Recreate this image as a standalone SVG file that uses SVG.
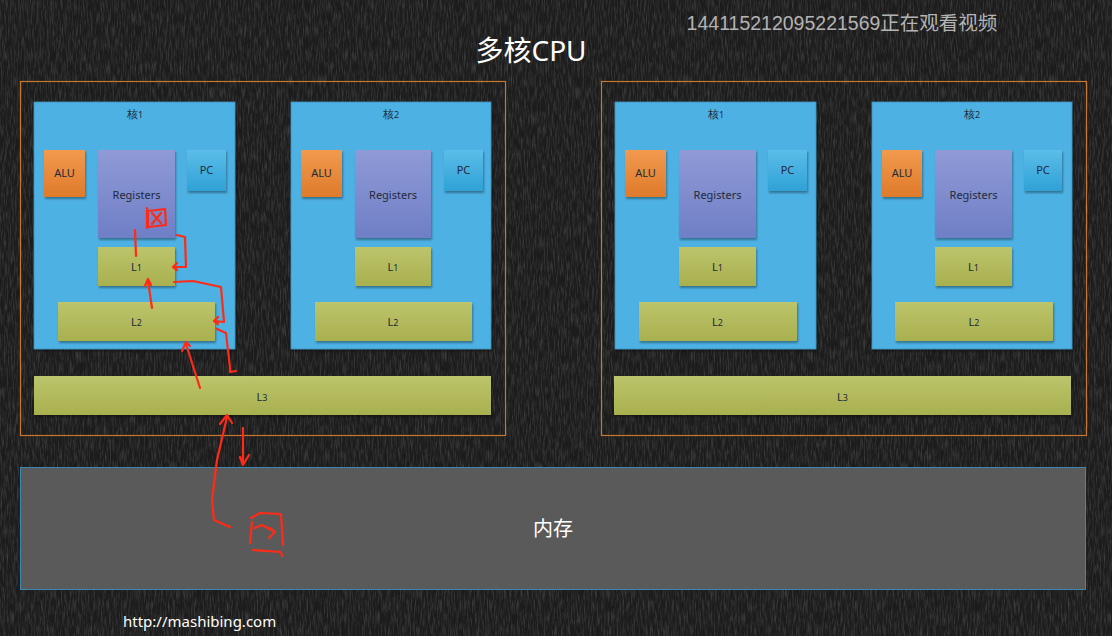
<svg xmlns="http://www.w3.org/2000/svg" width="1112" height="636" viewBox="0 0 1112 636">
<defs>
<style>
.cpu{fill:none;stroke:#c8782e;stroke-width:1.2}
.core{fill:#4db1e3;stroke:#3d8fb8;stroke-width:0.8}
.alu{fill:url(#gAlu)}
.reg{fill:url(#gReg)}
.pc{fill:url(#gPc)}
.cache{fill:url(#gCache)}
.sh{filter:url(#shadow)}
.lbl{font-family:"Noto Sans","Open Sans",sans-serif;font-size:11px;fill:#1e2a3a;text-anchor:middle}
.red{fill:none;stroke:#ff2b17;stroke-width:2.2;stroke-linecap:round;stroke-linejoin:round}
</style>
<linearGradient id="gAlu" x1="0" y1="0" x2="0" y2="1"><stop offset="0" stop-color="#f19a4f"/><stop offset="1" stop-color="#df7a2a"/></linearGradient>
<linearGradient id="gReg" x1="0" y1="0" x2="0" y2="1"><stop offset="0" stop-color="#8f9ad6"/><stop offset="1" stop-color="#6f7fc6"/></linearGradient>
<linearGradient id="gPc" x1="0" y1="0" x2="0" y2="1"><stop offset="0" stop-color="#5cbde9"/><stop offset="1" stop-color="#2fa1d6"/></linearGradient>
<linearGradient id="gCache" x1="0" y1="0" x2="0" y2="1"><stop offset="0" stop-color="#bcc46c"/><stop offset="1" stop-color="#a9b04e"/></linearGradient>
<filter id="shadow" x="-10%" y="-10%" width="130%" height="130%"><feDropShadow dx="1" dy="2" stdDeviation="1.2" flood-color="#000" flood-opacity="0.35"/></filter>
<filter id="chalk" x="0" y="0" width="100%" height="100%">
<feTurbulence type="fractalNoise" baseFrequency="0.7 0.08" numOctaves="3" seed="3" result="n"/>
<feColorMatrix in="n" type="matrix" values="0 0 0 0 0.4  0 0 0 0 0.4  0 0 0 0 0.4  0 0 0 0.7 -0.28"/>
</filter>
</defs>
<rect width="1112" height="636" fill="#1c1c1c"/>
<rect width="1112" height="636" filter="url(#chalk)" opacity="0.7"/>

<text x="842" y="30" font-family="Liberation Sans,Noto Sans CJK SC,sans-serif" font-size="19.5" fill="#b4b4b4" text-anchor="middle">144115212095221569正在观看视频</text>
<text x="531" y="61" font-family="Noto Sans,Noto Sans CJK SC,sans-serif" font-size="28" fill="#ffffff" text-anchor="middle">多核CPU</text>

<g id="cpu1">
<rect class="cpu" x="20.5" y="81.5" width="485" height="354"/>
<g id="cpu1-core1">
<rect class="core sh" x="34" y="102" width="201" height="247"/>
<text class="lbl" x="135" y="118">核<tspan font-size="9">1</tspan></text>
<rect class="alu sh" x="44" y="150" width="41" height="47"/><text class="lbl" x="64.5" y="177">ALU</text>
<rect class="reg sh" x="98" y="150" width="77" height="88"/><text class="lbl" x="136.5" y="199">Registers</text>
<rect class="pc sh" x="187" y="150" width="39" height="41"/><text class="lbl" x="206.5" y="174">PC</text>
<rect class="cache sh" x="98" y="247" width="77" height="39"/><text class="lbl" x="136.5" y="271">L<tspan font-size="9">1</tspan></text>
<rect class="cache sh" x="58" y="302" width="157" height="39"/><text class="lbl" x="136.5" y="326">L<tspan font-size="9">2</tspan></text>
</g>
<g id="cpu1-core2">
<rect class="core sh" x="291" y="102" width="200" height="247"/>
<text class="lbl" x="391" y="118">核<tspan font-size="9">2</tspan></text>
<rect class="alu sh" x="301" y="150" width="41" height="47"/><text class="lbl" x="321.5" y="177">ALU</text>
<rect class="reg sh" x="355" y="150" width="76" height="88"/><text class="lbl" x="393" y="199">Registers</text>
<rect class="pc sh" x="444" y="150" width="39" height="41"/><text class="lbl" x="463.5" y="174">PC</text>
<rect class="cache sh" x="355" y="247" width="76" height="39"/><text class="lbl" x="393" y="271">L<tspan font-size="9">1</tspan></text>
<rect class="cache sh" x="315" y="302" width="157" height="39"/><text class="lbl" x="393" y="326">L<tspan font-size="9">2</tspan></text>
</g>
<g id="cpu1-l3">
<rect class="cache sh" x="34" y="376" width="457" height="39"/><text class="lbl" x="262" y="401">L<tspan font-size="9">3</tspan></text>
</g>
</g>

<g id="cpu2">
<rect class="cpu" x="601.5" y="81.5" width="485" height="354"/>
<g id="cpu2-core1">
<rect class="core sh" x="615" y="102" width="201" height="247"/>
<text class="lbl" x="716" y="118">核<tspan font-size="9">1</tspan></text>
<rect class="alu sh" x="625" y="150" width="41" height="47"/><text class="lbl" x="645.5" y="177">ALU</text>
<rect class="reg sh" x="679" y="150" width="77" height="88"/><text class="lbl" x="717.5" y="199">Registers</text>
<rect class="pc sh" x="768" y="150" width="39" height="41"/><text class="lbl" x="787.5" y="174">PC</text>
<rect class="cache sh" x="679" y="247" width="77" height="39"/><text class="lbl" x="717.5" y="271">L<tspan font-size="9">1</tspan></text>
<rect class="cache sh" x="639" y="302" width="158" height="39"/><text class="lbl" x="717.5" y="326">L<tspan font-size="9">2</tspan></text>
</g>
<g id="cpu2-core2">
<rect class="core sh" x="872" y="102" width="200" height="247"/>
<text class="lbl" x="972" y="118">核<tspan font-size="9">2</tspan></text>
<rect class="alu sh" x="882" y="150" width="40" height="47"/><text class="lbl" x="902" y="177">ALU</text>
<rect class="reg sh" x="935" y="150" width="77" height="88"/><text class="lbl" x="973.5" y="199">Registers</text>
<rect class="pc sh" x="1024" y="150" width="38" height="41"/><text class="lbl" x="1043" y="174">PC</text>
<rect class="cache sh" x="935" y="247" width="77" height="39"/><text class="lbl" x="973.5" y="271">L<tspan font-size="9">1</tspan></text>
<rect class="cache sh" x="895" y="302" width="158" height="39"/><text class="lbl" x="974" y="326">L<tspan font-size="9">2</tspan></text>
</g>
<g id="cpu2-l3">
<rect class="cache sh" x="614" y="376" width="457" height="39"/><text class="lbl" x="842.5" y="401">L<tspan font-size="9">3</tspan></text>
</g>
</g>

<g id="memory">
<rect x="20.5" y="467.5" width="1065" height="122" fill="#5a5a5a" stroke="#3c87ad" stroke-width="1"/>
<text x="553" y="536" font-family="Noto Sans CJK SC,sans-serif" font-size="20" fill="#ffffff" text-anchor="middle">内存</text>
</g>

<g id="connectors">
<path class="red" d="M148,211 L165,209 L166,225 L148,227 Z M147,208 L147,228"/>
<path class="red" d="M152,213 L161,223 M161,213 L152,224"/>
<path class="red" d="M135,230 L136,256"/>
<path class="red" d="M177,235 L185,237 L186,267 L174,267 M177,263 L173,267 L177,270"/>
<path class="red" d="M152,308 L148,281 M145,286 L148,279 L151,285"/>
<path class="red" d="M174,282 L193,281 L221,287 L224,322 L215,321 M218,317 L214,321 L218,324"/>
<path class="red" d="M217,329 L226,333 L230,368 L230,372 L236,371"/>
<path class="red" d="M200,388 L186,344 M182,351 L186,342 L190,346"/>
<path class="red" d="M230,527 L214,520 L212,500 L217,460 L227,417 M220,424 L227,415 L232,423"/>
<path class="red" d="M243,428 L243,465 M240,457 L243,465 L249,455"/>
<path class="red" d="M251,518 L260,513 L281,514 L283,545 M252,522 L250,543 M253,550 L281,552 L282,556"/>
<path class="red" d="M255,528 L262,525 L275,532 M269,538 L275,532 L270,528"/>
</g>

<text x="123" y="627" font-family="Noto Sans,Open Sans,sans-serif" font-size="15" fill="#ffffff">http://mashibing.com</text>
</svg>
